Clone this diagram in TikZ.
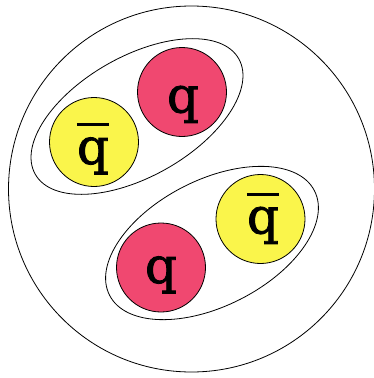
\documentclass[tikz,border=0pt]{standalone}
\usepackage{fontspec}
\setmainfont{DejaVu Serif}
\newfontfamily\qfont[FakeBold=1.6]{DejaVu Serif}
\definecolor{quarkred}{RGB}{240,72,112}
\definecolor{quarkyellow}{RGB}{250,245,75}
\newcommand\antiq{\makebox[0pt][l]{\rule[38pt]{32pt}{2.8pt}}q}
\begin{document}
\begin{tikzpicture}[x=1pt,y=1pt,
  quark/.style={circle,draw=black,line width=0.8pt,minimum size=89pt,inner sep=0pt},
  redq/.style={quark,fill=quarkred},
  yellowq/.style={quark,fill=quarkyellow},
  lab/.style={anchor=base,inner sep=0pt,font=\qfont\fontsize{50}{60}\selectfont},
  hull/.style={draw=black,line width=0.8pt}]
\useasboundingbox (0,0) rectangle (374,-378);
% hadron
\node[circle,hull,minimum size=366pt,inner sep=0pt] (hadron) at (191.5,-189) {};
% upper meson
\draw[hull,rotate around={29.6:(137,-116.5)}] (137,-116.5) ellipse [x radius=117, y radius=60];
\node[redq] (r1) at (182,-92) {};
\node[yellowq] (y1) at (94,-142) {};
\node[lab] (tr1) at (183,-112.5) {q};
\node[lab] (ty1) at (93,-164) {\antiq};
% lower meson
\draw[hull,rotate around={27:(212,-243)}] (212,-243) ellipse [x radius=115, y radius=63];
\node[redq] (r2) at (161,-267.5) {};
\node[yellowq] (y2) at (260.5,-219) {};
\node[lab] (tr2) at (161,-283) {q};
\node[lab] (ty2) at (263,-233.5) {\antiq};
\end{tikzpicture}
\end{document}
